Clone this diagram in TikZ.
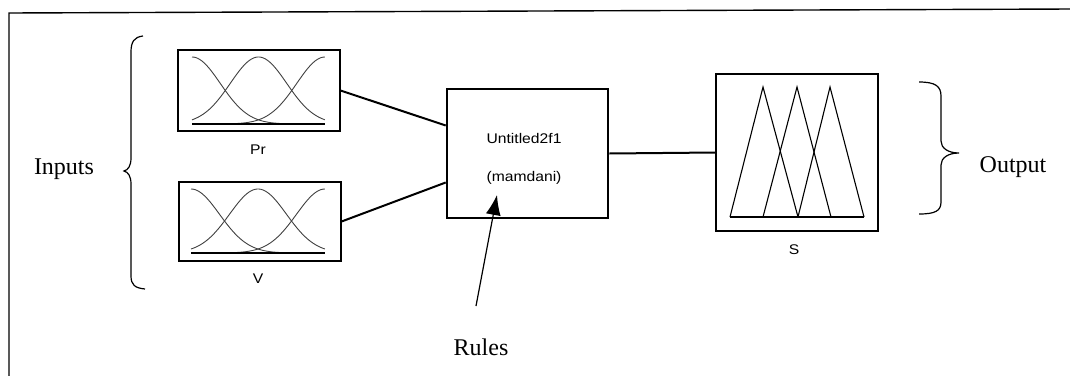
\documentclass[tikz,border=0pt]{standalone}
\usepackage{fontspec}
\setmainfont{Liberation Serif}
\newfontfamily\lsans[FakeStretch=1.12]{Liberation Sans}
\usetikzlibrary{arrows.meta}
\newcommand\gaussmfs[4]{% x0, x1, ytop, ybase
  \foreach \cc in {0,0.5,1}{
    \draw[mfcurve] plot[domain=0:1, samples=70, smooth]
      ({#1+(#2-#1)*\x}, {#4-(#4-#3)*exp(-((\x-\cc)^2)/0.0901)});
  }
  \draw[mfbase] (#1,#4) -- (#2,#4);
}
\begin{document}
\begin{tikzpicture}[x=1pt,y=-1pt,
  frameline/.style={line width=1.4pt},
  mfbox/.style={draw, line width=1.1pt, minimum width=162pt, inner sep=0pt},
  fisbox/.style={draw, line width=2.6pt, minimum width=161pt, minimum height=129pt, inner sep=0pt},
  conn/.style={line width=2pt},
  mfcurve/.style={line width=0.9pt, black!75},
  mfbase/.style={line width=1.3pt},
  trimf/.style={line width=1.1pt, line join=miter},
  lbl/.style={font=\lsans\fontsize{14}{16}\selectfont, inner sep=0pt},
  big/.style={font=\fontsize{24}{28}\selectfont, inner sep=0pt},
  brace/.style={line width=1.2pt}]
\useasboundingbox (0,0) rectangle (1070,375);
% frame
\draw[frameline] (9,380) -- (9,13) -- (1072,9);
% boxes
\node[mfbox, minimum height=81pt] (pr) at (259,90.5) {};
\node[mfbox, minimum height=79pt] (v) at (260,221.5) {};
\node[fisbox] (fis) at (527.5,153.5) {};
\node[mfbox, minimum height=157pt] (s) at (797,152.5) {};
% membership functions
\gaussmfs{192}{325}{57}{124}
\gaussmfs{191}{325}{189}{253}
\draw[trimf] (730,217) -- (763,87) -- (798,217);
\draw[trimf] (763,217) -- (797,87) -- (831,217);
\draw[trimf] (798,217) -- (830,87) -- (864,217);
\draw[mfbase] (730,217) -- (864,217);
% labels
\node[lbl] (prl) at (258,150) {Pr};
\node[lbl] (vl) at (258,279) {V};
\node[lbl] (sl) at (794,250) {S};
\node[lbl] (fisname) at (524,138) {Untitled2f1};
\node[lbl] (fistype) at (524,178) {(mamdani)};
% connectors
\draw[conn] (pr.east) -- ([yshift=28pt]fis.west);
\draw[conn] (v.east) -- ([yshift=-29pt]fis.west);
\draw[conn] (fis.east) -- (s.west);
% rules arrow
\node[big] (rules) at (481,347) {Rules};
\coordinate (arrtail) at (476,306);
\coordinate (arrtip) at (497,195);
\draw[line width=1.2pt, -{Latex[length=20pt,width=15pt]}] (arrtail) -- (arrtip);
% braces
\draw[brace] (143,36) .. controls (134,37) and (131,42) .. (131,52) -- (131,158)
  .. controls (131,166) and (128,170) .. (124,171)
  .. controls (128,172) and (131,176) .. (131,184) -- (131,276)
  .. controls (131,285) and (135,288) .. (145,289);
\draw[brace] (919,82) .. controls (935,82) and (941,86) .. (941,96) -- (941,141)
  .. controls (941,148) and (948,153) .. (959,153)
  .. controls (948,153) and (941,158) .. (941,165) -- (941,202)
  .. controls (941,211) and (935,214) .. (919,214);
\node[big] (inputs) at (64,169) {Inputs};
\node[big] (output) at (1013,167) {Output};
\end{tikzpicture}
\end{document}
